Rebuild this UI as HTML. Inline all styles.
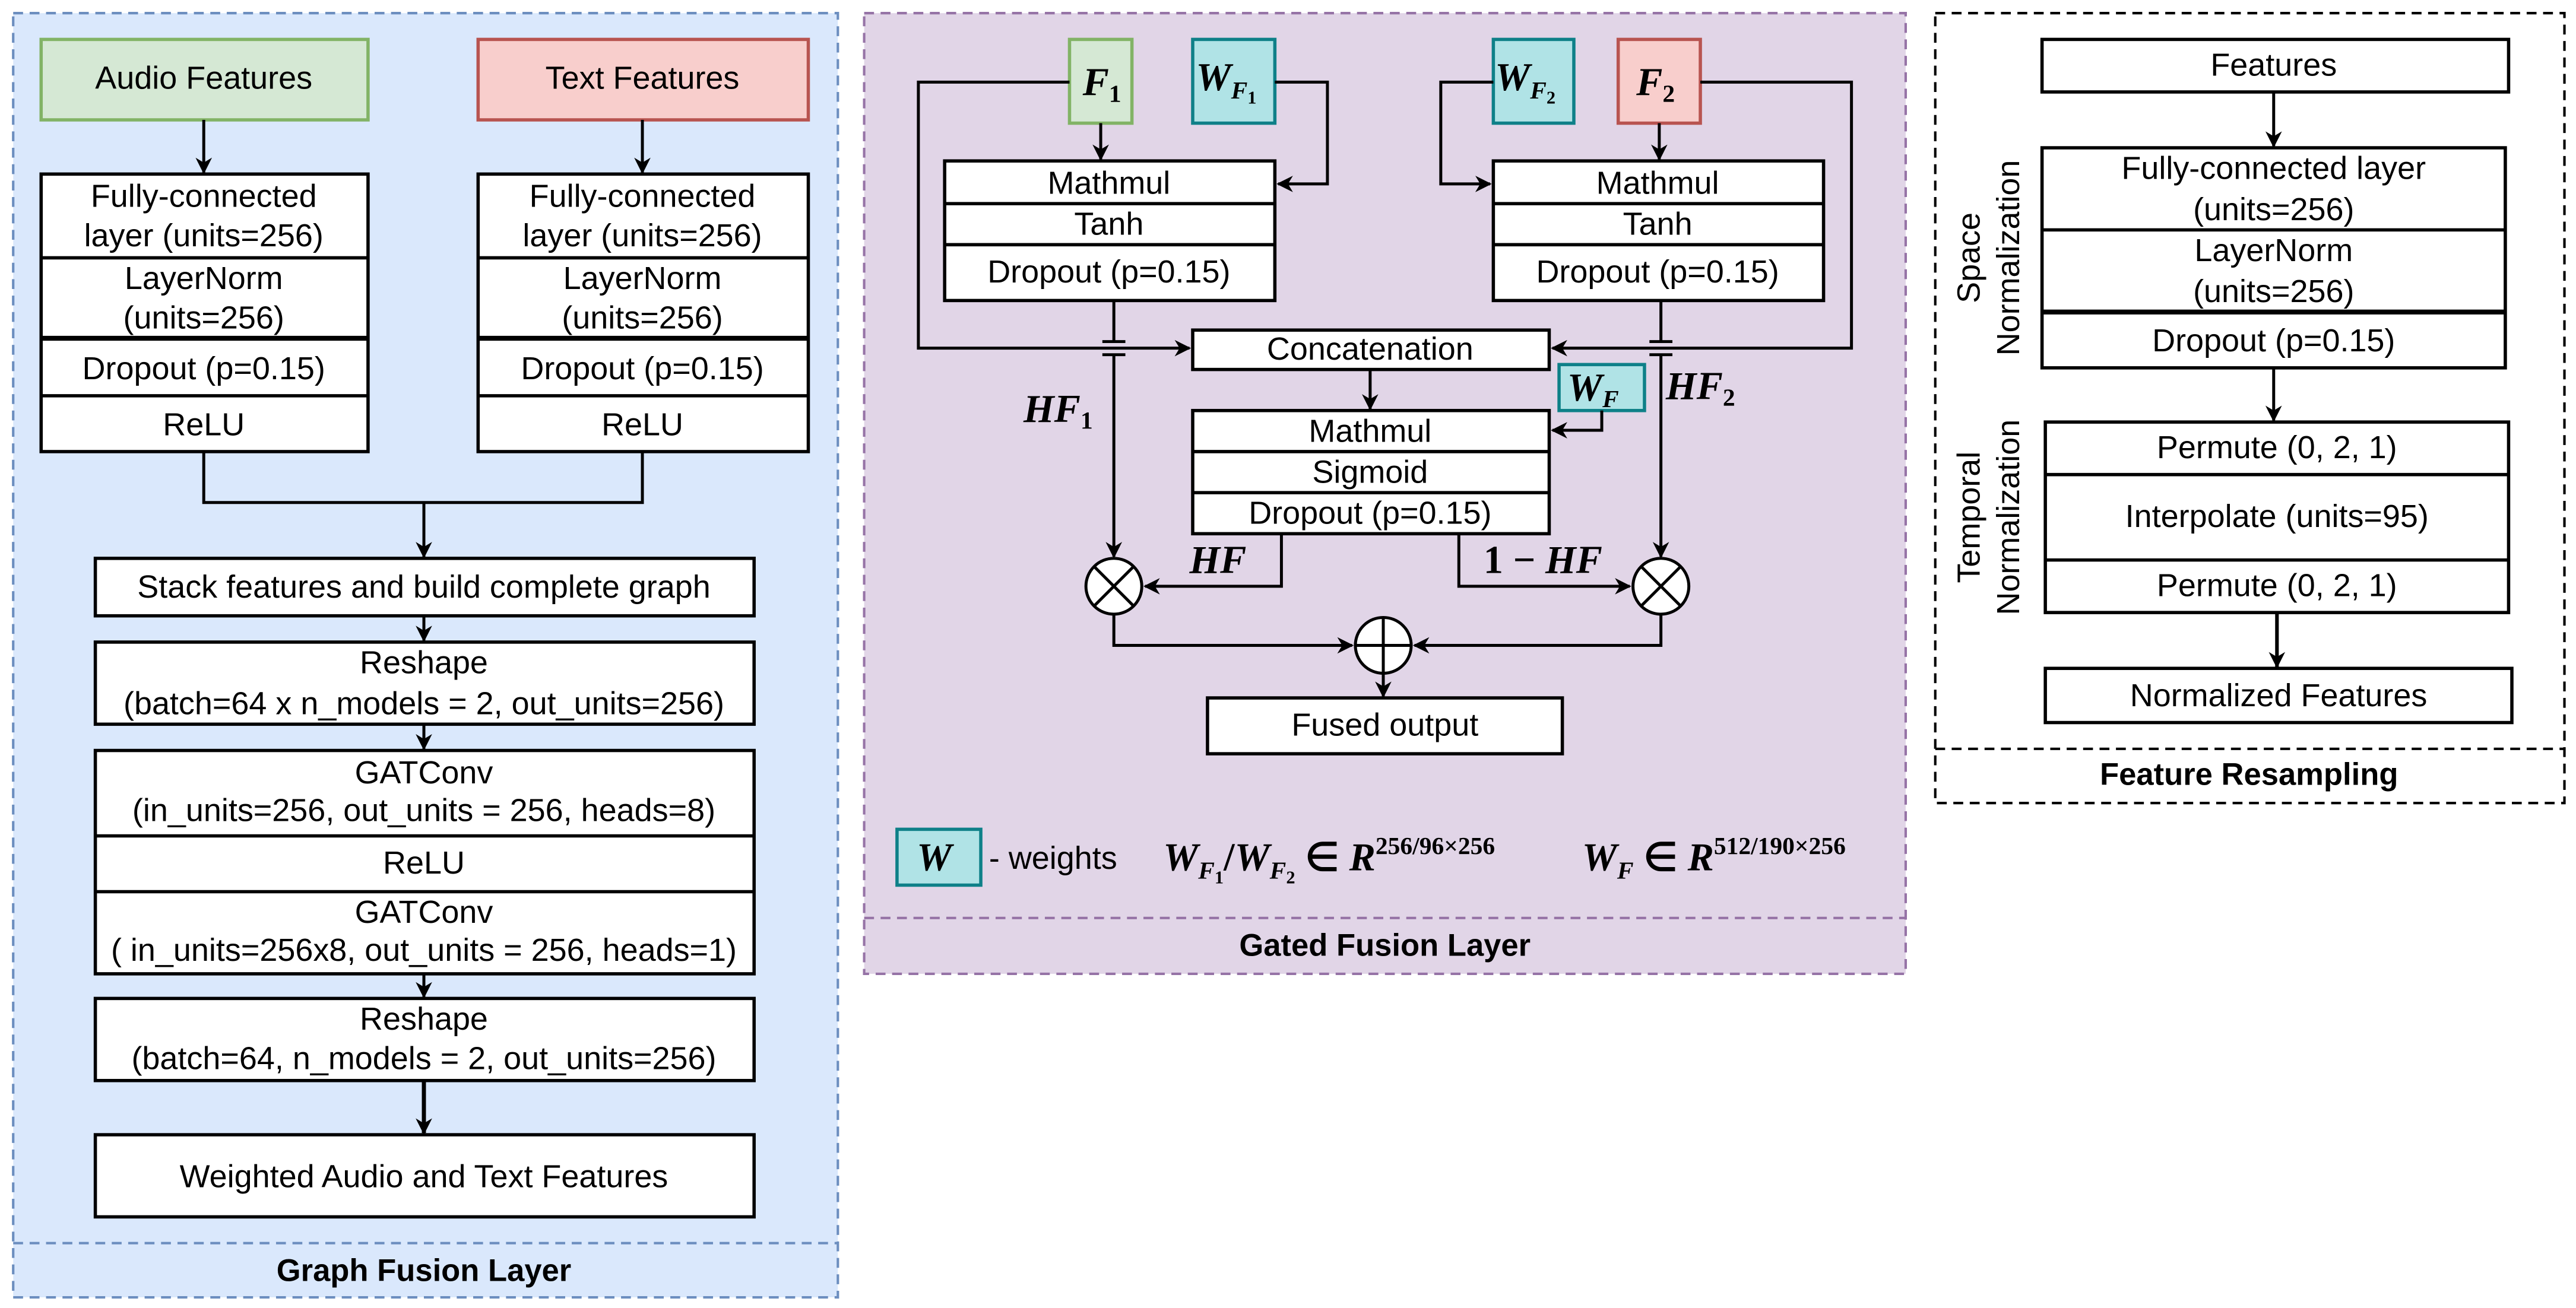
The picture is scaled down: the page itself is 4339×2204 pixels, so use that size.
<!DOCTYPE html>
<html><head><meta charset="utf-8"><style>
html,body{margin:0;padding:0;background:#fff;}
svg{display:block;}
text{font-family:"Liberation Sans",sans-serif;font-size:19.5px;fill:#000;}
.m{font-family:"Liberation Serif",serif;font-style:italic;font-weight:bold;font-size:24px;}
.b{font-weight:bold;font-size:19px;}
.n{font-style:normal;font-weight:normal;font-family:"Liberation Sans",sans-serif;font-size:19.5px;}
</style></head><body>
<svg width="4339" height="2204" viewBox="0 0 1568 796.5" xmlns="http://www.w3.org/2000/svg">
<defs>
<marker id="a" markerWidth="10" markerHeight="10" refX="9" refY="5" orient="auto" markerUnits="userSpaceOnUse">
<path d="M0,0 L10,5 L0,10 L3,5 Z" fill="#000"/></marker>
</defs>
<g stroke-width="1.5">
<rect x="8" y="8" width="502" height="782" fill="#dae8fc" stroke="#6c8ebf" stroke-dasharray="6,4"/>
<line x1="8" y1="757" x2="510" y2="757" stroke="#6c8ebf" stroke-dasharray="6,4"/>
<rect x="526" y="8" width="634" height="585" fill="#e1d5e7" stroke="#9673a6" stroke-dasharray="6,4"/>
<line x1="526" y1="559" x2="1160" y2="559" stroke="#9673a6" stroke-dasharray="6,4"/>
<rect x="1178" y="8" width="383" height="481" fill="#fff" stroke="#000" stroke-dasharray="6,4"/>
<line x1="1178" y1="456" x2="1561" y2="456" stroke="#000" stroke-dasharray="6,4"/>
</g>
<g stroke="#000" stroke-width="2" fill="#fff">
<rect x="25" y="24" width="199" height="49" fill="#d5e8d4" stroke="#82b366"/>
<rect x="291" y="24" width="201" height="49" fill="#f8cecc" stroke="#b85450"/>
<rect x="25" y="106" width="199" height="169"/>
<line x1="25" y1="157" x2="224" y2="157"/><line x1="25" y1="206" x2="224" y2="206" stroke-width="3"/><line x1="25" y1="241" x2="224" y2="241"/>
<rect x="291" y="106" width="201" height="169"/>
<line x1="291" y1="157" x2="492" y2="157"/><line x1="291" y1="206" x2="492" y2="206" stroke-width="3"/><line x1="291" y1="241" x2="492" y2="241"/>
<rect x="58" y="340" width="401" height="35"/>
<rect x="58" y="391" width="401" height="50"/>
<rect x="58" y="457" width="401" height="136"/>
<line x1="58" y1="509" x2="459" y2="509"/><line x1="58" y1="543" x2="459" y2="543"/>
<rect x="58" y="608" width="401" height="50"/>
<rect x="58" y="691" width="401" height="50"/>
<rect x="651" y="24" width="38" height="51" fill="#d5e8d4" stroke="#82b366"/>
<rect x="726" y="24" width="50" height="51" fill="#b0e3e6" stroke="#0e8088"/>
<rect x="909" y="24" width="49" height="51" fill="#b0e3e6" stroke="#0e8088"/>
<rect x="985" y="24" width="50" height="51" fill="#f8cecc" stroke="#b85450"/>
<rect x="575" y="98" width="201" height="85"/>
<line x1="575" y1="124" x2="776" y2="124"/><line x1="575" y1="149" x2="776" y2="149"/>
<rect x="909" y="98" width="201" height="85"/>
<line x1="909" y1="124" x2="1110" y2="124"/><line x1="909" y1="149" x2="1110" y2="149"/>
<rect x="726" y="201" width="217" height="24"/>
<rect x="949" y="222" width="52" height="28" fill="#b0e3e6" stroke="#0e8088"/>
<rect x="726" y="250" width="217" height="75"/>
<line x1="726" y1="275" x2="943" y2="275"/><line x1="726" y1="300" x2="943" y2="300"/>
<rect x="735" y="425" width="216" height="34"/>
<rect x="546" y="505" width="51" height="34" fill="#b0e3e6" stroke="#0e8088"/>
<rect x="1243" y="24" width="284" height="32"/>
<rect x="1243" y="90" width="282" height="134"/>
<line x1="1243" y1="140" x2="1525" y2="140"/><line x1="1243" y1="190" x2="1525" y2="190" stroke-width="3"/>
<rect x="1245" y="257" width="282" height="116"/>
<line x1="1245" y1="289" x2="1527" y2="289"/><line x1="1245" y1="341" x2="1527" y2="341"/>
<rect x="1245" y="407" width="284" height="33"/>
</g>
<g stroke="#000" stroke-width="1.8" fill="none">
<line x1="124" y1="73" x2="124" y2="105" marker-end="url(#a)"/>
<line x1="391" y1="73" x2="391" y2="105" marker-end="url(#a)"/>
<polyline points="124,275 124,306 391,306 391,275"/>
<line x1="258" y1="306" x2="258" y2="339" marker-end="url(#a)"/>
<line x1="258" y1="375" x2="258" y2="390" marker-end="url(#a)"/>
<line x1="258" y1="441" x2="258" y2="456" marker-end="url(#a)"/>
<line x1="258" y1="593" x2="258" y2="607" marker-end="url(#a)"/>
<line x1="258" y1="658" x2="258" y2="690" marker-end="url(#a)" stroke-width="2.5"/>
<line x1="670" y1="75" x2="670" y2="97" marker-end="url(#a)"/>
<line x1="1010" y1="75" x2="1010" y2="97" marker-end="url(#a)"/>
<polyline points="776,50 808,50 808,112 778,112" marker-end="url(#a)"/>
<polyline points="909,50 877,50 877,112 907,112" marker-end="url(#a)"/>
<polyline points="651,50 559,50 559,212 724,212" marker-end="url(#a)"/>
<polyline points="1035,50 1127,50 1127,212 945,212" marker-end="url(#a)"/>
<line x1="678" y1="183" x2="678" y2="208"/>
<line x1="671" y1="208" x2="685" y2="208"/><line x1="671" y1="216" x2="685" y2="216"/>
<line x1="678" y1="216" x2="678" y2="339" marker-end="url(#a)"/>
<line x1="1011" y1="183" x2="1011" y2="208"/>
<line x1="1004" y1="208" x2="1018" y2="208"/><line x1="1004" y1="216" x2="1018" y2="216"/>
<line x1="1011" y1="216" x2="1011" y2="339" marker-end="url(#a)"/>
<line x1="834" y1="225" x2="834" y2="249" marker-end="url(#a)"/>
<polyline points="975,250 975,262 945,262" marker-end="url(#a)"/>
<polyline points="780,325 780,357 697,357" marker-end="url(#a)"/>
<polyline points="888,325 888,357 992,357" marker-end="url(#a)"/>
<polyline points="678,374 678,393 823,393" marker-end="url(#a)"/>
<polyline points="1011,374 1011,393 861,393" marker-end="url(#a)"/>
<line x1="842" y1="410" x2="842" y2="424" marker-end="url(#a)"/>
<circle cx="678" cy="357" r="17" fill="#fff"/>
<line x1="666" y1="345" x2="690" y2="369"/><line x1="690" y1="345" x2="666" y2="369"/>
<circle cx="1011" cy="357" r="17" fill="#fff"/>
<line x1="999" y1="345" x2="1023" y2="369"/><line x1="1023" y1="345" x2="999" y2="369"/>
<circle cx="842" cy="393" r="17" fill="#fff"/>
<line x1="842" y1="376" x2="842" y2="410"/><line x1="825" y1="393" x2="859" y2="393"/>
<line x1="1384" y1="56" x2="1384" y2="89" marker-end="url(#a)"/>
<line x1="1384" y1="224" x2="1384" y2="256" marker-end="url(#a)"/>
<line x1="1386" y1="373" x2="1386" y2="406" marker-end="url(#a)" stroke-width="2.2"/>
</g>
<g text-anchor="middle">
<text x="124" y="54">Audio Features</text>
<text x="391" y="54">Text Features</text>
<text x="124" y="126">Fully-connected</text><text x="124" y="150">layer (units=256)</text>
<text x="124" y="176">LayerNorm</text><text x="124" y="200">(units=256)</text>
<text x="124" y="231">Dropout (p=0.15)</text><text x="124" y="265">ReLU</text>
<text x="391" y="126">Fully-connected</text><text x="391" y="150">layer (units=256)</text>
<text x="391" y="176">LayerNorm</text><text x="391" y="200">(units=256)</text>
<text x="391" y="231">Dropout (p=0.15)</text><text x="391" y="265">ReLU</text>
<text x="258" y="364">Stack features and build complete graph</text>
<text x="258" y="410">Reshape</text><text x="258" y="435">(batch=64 x n_models = 2, out_units=256)</text>
<text x="258" y="477" font-size="18">GATConv</text><text x="258" y="500" font-size="18">(in_units=256, out_units = 256, heads=8)</text>
<text x="258" y="532">ReLU</text>
<text x="258" y="562" font-size="18">GATConv</text><text x="258" y="585" font-size="18">( in_units=256x8, out_units = 256, heads=1)</text>
<text x="258" y="627">Reshape</text><text x="258" y="651">(batch=64, n_models = 2, out_units=256)</text>
<text x="258" y="723">Weighted Audio and Text Features</text>
<text x="258" y="780" class="b">Graph Fusion Layer</text>
<text x="675" y="118">Mathmul</text><text x="675" y="143">Tanh</text><text x="675" y="172">Dropout (p=0.15)</text>
<text x="1009" y="118">Mathmul</text><text x="1009" y="143">Tanh</text><text x="1009" y="172">Dropout (p=0.15)</text>
<text x="834" y="219">Concatenation</text>
<text x="834" y="269">Mathmul</text><text x="834" y="294">Sigmoid</text><text x="834" y="319">Dropout (p=0.15)</text>
<text x="843" y="448">Fused output</text>
<text x="843" y="582" class="b">Gated Fusion Layer</text>
<text x="1384" y="46">Features</text>
<text x="1384" y="109">Fully-connected layer</text><text x="1384" y="134">(units=256)</text>
<text x="1384" y="159">LayerNorm</text><text x="1384" y="184">(units=256)</text>
<text x="1384" y="214">Dropout (p=0.15)</text>
<text x="1386" y="279">Permute (0, 2, 1)</text>
<text x="1386" y="321">Interpolate (units=95)</text>
<text x="1386" y="363">Permute (0, 2, 1)</text>
<text x="1387" y="430">Normalized Features</text>
<text x="1369" y="478" class="b">Feature Resampling</text>
<text transform="translate(1205,157) rotate(-90)">Space</text>
<text transform="translate(1229,157) rotate(-90)">Normalization</text>
<text transform="translate(1205,315) rotate(-90)">Temporal</text>
<text transform="translate(1229,315) rotate(-90)">Normalization</text>
</g>
<text class="m" x="659" y="58">F<tspan font-size="15" dy="4" font-style="normal">1</tspan></text>
<text class="m" x="728" y="55">W<tspan font-size="15" dy="5">F</tspan><tspan font-size="11" dy="3" font-style="normal">1</tspan></text>
<text class="m" x="910" y="55">W<tspan font-size="15" dy="5">F</tspan><tspan font-size="11" dy="3" font-style="normal">2</tspan></text>
<text class="m" x="996" y="58">F<tspan font-size="15" dy="4" font-style="normal">2</tspan></text>
<text class="m" x="954" y="244">W<tspan font-size="15" dy="4">F</tspan></text>
<text class="m" x="623" y="257">HF<tspan font-size="15" dy="4" font-style="normal">1</tspan></text>
<text class="m" x="1014" y="243">HF<tspan font-size="15" dy="4" font-style="normal">2</tspan></text>
<text class="m" x="724" y="349">HF</text>
<text class="m" x="903" y="349"><tspan font-style="normal">1 − </tspan>HF</text>
<text class="m" x="558" y="530">W</text>
<text x="602" y="529">- weights</text>
<text class="m" x="708" y="530">W<tspan font-size="15" dy="5">F</tspan><tspan font-size="11" dy="3" font-style="normal">1</tspan><tspan dy="-8" font-style="normal">/</tspan>W<tspan font-size="15" dy="5">F</tspan><tspan font-size="11" dy="3" font-style="normal">2</tspan><tspan dy="-8" font-style="normal"> ∈ </tspan>R<tspan font-size="15" dy="-10" font-style="normal">256/96×256</tspan></text>
<text class="m" x="963" y="530">W<tspan font-size="15" dy="5">F</tspan><tspan dy="-5" font-style="normal"> ∈ </tspan>R<tspan font-size="15" dy="-10" font-style="normal">512/190×256</tspan></text>
</svg>
</body></html>
